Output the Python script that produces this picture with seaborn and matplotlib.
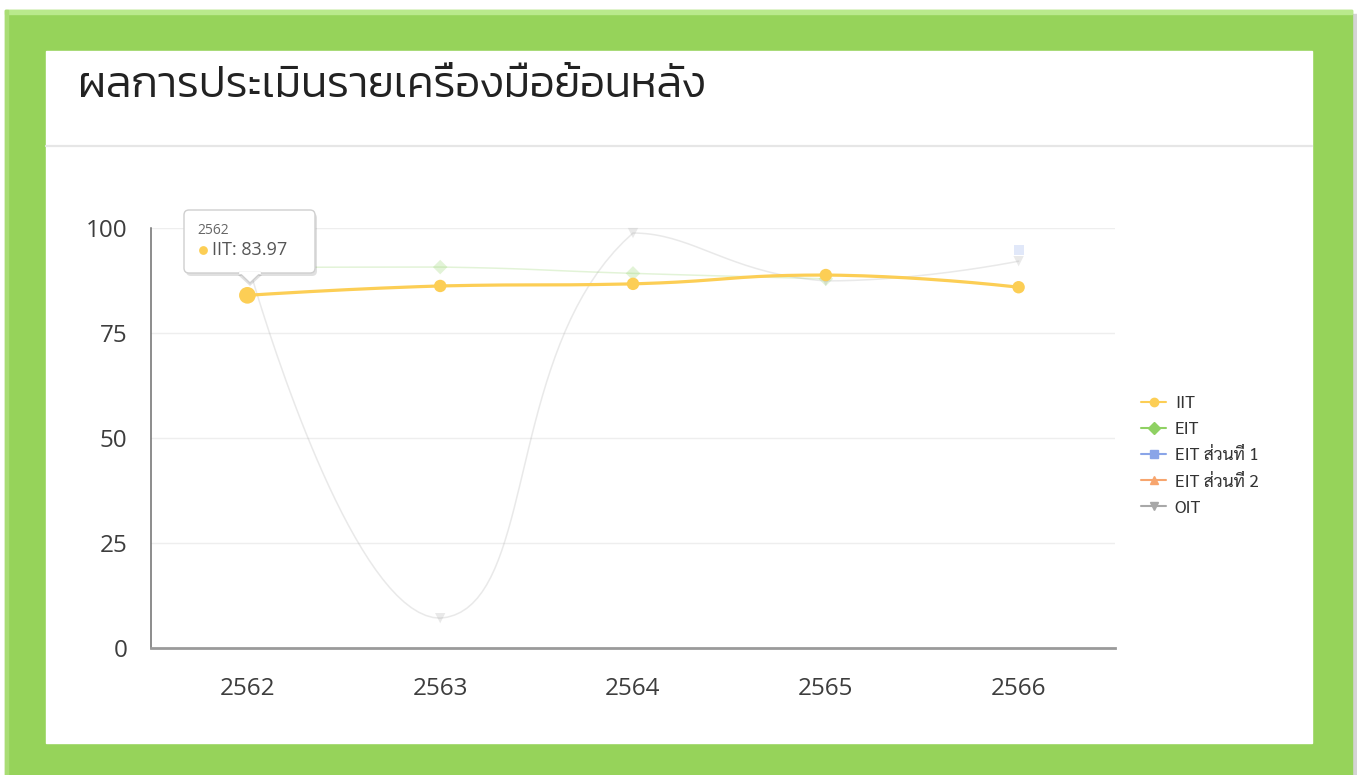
import matplotlib
matplotlib.use("Agg")
import matplotlib.pyplot as plt
import numpy as np
import pandas as pd
import seaborn as sns
from matplotlib import font_manager
from matplotlib.font_manager import FontProperties
from matplotlib.lines import Line2D
from matplotlib.patches import Rectangle, FancyBboxPatch, Polygon

# Data (NaN = no value for that year)
years = ["2562", "2563", "2564", "2565", "2566"]
iit = [83.97, 86.2, 86.7, 88.8, 85.9]
eit = [90.6, 90.7, 89.2, 87.9, np.nan]
eit_part1 = [np.nan, np.nan, np.nan, np.nan, 94.8]
eit_part2 = [np.nan, np.nan, np.nan, np.nan, np.nan]
oit = [92.0, 7.1, 98.8, 87.4, 92.1]

series_names = ["IIT", "EIT", "EIT ส่วนที่ 1", "EIT ส่วนที่ 2", "OIT"]
series_values = [iit, eit, eit_part1, eit_part2, oit]
series_colors = ["#fcce55", "#8fd163", "#8aa5e8", "#f7a56e", "#a8a8a8"]
series_markers = ["o", "D", "s", "^", "v"]
y_ticks = [0, 25, 50, 75, 100]
title = "ผลการประเมินรายเครื่องมือย้อนหลัง"
hover_index = 0  # tooltip shown for IIT at 2562

W, H = 1357, 775


def font_file(families, weight=400):
    """Return a FontProperties for the first family that has a static face near weight."""
    for fam in families:
        cands = [f for f in font_manager.fontManager.ttflist
                 if f.name == fam and f.style == "normal"]
        if not cands:
            continue
        best = min(cands, key=lambda f: abs(int(f.weight) - weight))
        if abs(int(best.weight) - weight) <= 50:
            return FontProperties(fname=best.fname)
    return FontProperties(family="DejaVu Sans")


title_fp = font_file(["Kanit", "Prompt", "Mitr", "IBM Plex Sans Thai", "Sarabun"], 300)
thai_fp = font_file(["Sarabun", "IBM Plex Sans Thai", "Kanit", "Prompt"], 400)
num_fp = font_file(["Montserrat", "Open Sans", "Lato"], 400)

sns.set_theme(style="white")

fig = plt.figure(figsize=(W / 100, H / 100), dpi=100)
fig.patch.set_facecolor("white")

# background layer in pixel coordinates
bg = fig.add_axes([0, 0, 1, 1], zorder=0)
bg.set_xlim(0, W)
bg.set_ylim(H, 0)
bg.axis("off")
bg.add_patch(Rectangle((1352, 14), 5, H, color="#d4d4d4"))
bg.add_patch(Rectangle((5, 10), 1347, H, color="#96d35a"))
bg.add_patch(Rectangle((5, 10), 1347, 4, color="#b9e98c"))
bg.add_patch(Rectangle((5, 10), 3, H, color="#a9dd74"))
bg.add_patch(Rectangle((46, 51), 1266, 692, color="white"))
bg.plot([46, 1312], [146, 146], color="#e6e6e6", lw=1.6)
t = bg.text(78, 97, title, color="#222222", va="baseline", fontproperties=title_fp)
t.set_fontsize(26)
fig.canvas.draw()
ext = t.get_window_extent()
t.set_fontsize(26 * 628 / ext.width)

# chart axes
ax = fig.add_axes([151 / W, 1 - 648 / H, (1115 - 151) / W, (648 - 228) / H], zorder=1)
ax.set_facecolor("none")
ax.set_xlim(-0.5, len(years) - 0.5)
ax.set_ylim(0, 100)
for v in y_ticks[1:]:
    ax.axhline(v, color="#eeeeee", lw=1, zorder=0)
fig.canvas.draw()


def smooth_curve(xs, ys, smooth=0.5, n=40):
    """echarts-like smoothed line, control points kept between neighbours."""
    pts = ax.transData.transform(np.column_stack([xs, ys]))
    m = len(pts)
    cin, cout = pts.copy(), pts.copy()
    for i in range(1, m - 1):
        p, a, b = pts[i], pts[i - 1], pts[i + 1]
        v = (b - a) * smooth
        d0, d1 = np.hypot(*(p - a)), np.hypot(*(b - p))
        ci = p - v * d0 / (d0 + d1)
        co = p + v * d1 / (d0 + d1)
        for k in range(2):
            ci[k] = np.clip(ci[k], min(a[k], p[k]), max(a[k], p[k]))
            co[k] = np.clip(co[k], min(p[k], b[k]), max(p[k], b[k]))
        cin[i], cout[i] = ci, co
    tt = np.linspace(0, 1, n)[:, None]
    out = []
    for i in range(m - 1):
        p0, p1, p2, p3 = pts[i], cout[i], cin[i + 1], pts[i + 1]
        seg = ((1 - tt) ** 3) * p0 + 3 * ((1 - tt) ** 2) * tt * p1 \
            + 3 * (1 - tt) * tt ** 2 * p2 + tt ** 3 * p3
        out.append(seg)
    return ax.transData.inverted().transform(np.vstack(out))


rows = []
for name, vals in zip(series_names, series_values):
    for i, v in enumerate(vals):
        rows.append({"series": name, "x": i, "value": v})
df = pd.DataFrame(rows).dropna()

for name, vals, color, mk in zip(series_names, series_values, series_colors, series_markers):
    active = name == "IIT"
    alpha = 1.0 if active else 0.25
    lw = 2.3 if active else 1.1
    vals = np.asarray(vals, dtype=float)
    # split into runs without gaps
    runs, cur = [], []
    for i, v in enumerate(vals):
        if not np.isnan(v):
            cur.append(i)
        elif cur:
            runs.append(cur)
            cur = []
    if cur:
        runs.append(cur)
    for r in runs:
        if len(r) > 1:
            c = smooth_curve(np.array(r, float), vals[r])
            ax.plot(c[:, 0], c[:, 1], color=color, lw=lw, alpha=alpha,
                    zorder=3 if active else 2, solid_capstyle="round")
    sub = df[df["series"] == name]
    if len(sub):
        sizes = [144 if (active and x == hover_index) else (80 if active else 55)
                 for x in sub["x"]]
        sns.scatterplot(data=sub, x="x", y="value", ax=ax, color=color,
                        marker=mk, s=sizes, alpha=alpha, linewidth=0,
                        zorder=4 if active else 2, legend=False, clip_on=False)

ax.set_xlabel("")
ax.set_ylabel("")
ax.set_xlim(-0.5, len(years) - 0.5)
ax.set_ylim(0, 100)
ax.set_xticks(range(len(years)))
ax.set_xticklabels(years)
ax.set_yticks(y_ticks)
sns.despine(ax=ax, top=True, right=True)
ax.spines["left"].set_color("#6e6e6e")
ax.spines["left"].set_linewidth(1.1)
ax.spines["bottom"].set_color("#9a9a9a")
ax.spines["bottom"].set_linewidth(2)
ax.tick_params(axis="both", length=0, labelcolor="#3d3d3d")
ax.tick_params(axis="y", pad=17)
ax.tick_params(axis="x", pad=21)
for lbl in ax.get_xticklabels() + ax.get_yticklabels():
    lbl.set_fontproperties(num_fp)
    lbl.set_fontsize(17.5)

# legend
handles = [Line2D([0], [0], color=c, marker=m, markersize=6, lw=1.5)
           for c, m in zip(series_colors, series_markers)]
leg_fp = thai_fp.copy()
leg_fp.set_size(12.5)
leg = fig.legend(handles, series_names, loc="center left",
                 bbox_to_anchor=(1141 / W, 1 - 456 / H), frameon=False,
                 handlelength=1.45, handletextpad=0.5, labelspacing=0.52,
                 borderpad=0, borderaxespad=0, prop=leg_fp)
for txt in leg.get_texts():
    txt.set_color("#333333")

# tooltip overlay
ov = fig.add_axes([0, 0, 1, 1], zorder=3)
ov.set_xlim(0, W)
ov.set_ylim(H, 0)
ov.axis("off")
ov.add_patch(FancyBboxPatch((186, 213), 131, 63, boxstyle="round,pad=0,rounding_size=5",
                            fc="#000000", ec="none", alpha=0.12))
ov.add_patch(Polygon([[238, 275], [262, 275], [250, 286]], closed=True,
                     fc="#000000", ec="none", alpha=0.12))
ov.add_patch(FancyBboxPatch((184, 210), 131, 63, boxstyle="round,pad=0,rounding_size=5",
                            fc="white", ec="#cfcfcf", lw=1))
ov.add_patch(Polygon([[239, 272.5], [261, 272.5], [250, 283]], closed=True,
                     fc="white", ec="#cfcfcf", lw=1))
ov.plot([239.8, 260.2], [272.5, 272.5], color="white", lw=1.6)
tip_fp = num_fp.copy()
tip_fp.set_size(10)
ov.text(197, 230, years[hover_index], color="#666666", va="center", fontproperties=tip_fp)
ov.scatter([203], [250], s=40, color=series_colors[0], linewidths=0)
tip_fp2 = num_fp.copy()
tip_fp2.set_size(13)
ov.text(212, 250, f"{series_names[0]}: {iit[hover_index]:.2f}", color="#555555",
        va="center", fontproperties=tip_fp2)

fig.savefig("out.png", dpi=100)
